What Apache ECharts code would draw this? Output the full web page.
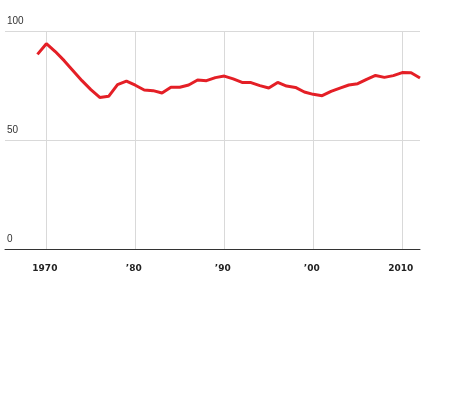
<!DOCTYPE html>
<html><head><meta charset="utf-8">
<script src="https://cdn.jsdelivr.net/npm/echarts@6/dist/echarts.min.js"></script>
<style>html,body{margin:0;padding:0;background:#fff}#c{width:460px;height:400px}</style>
</head><body><div id="c"></div>
<script>
const years = [1969,1970,1971,1972,1973,1974,1975,1976,1977,1978,1979,1980,1981,1982,1983,1984,1985,1986,1987,1988,1989,1990,1991,1992,1993,1994,1995,1996,1997,1998,1999,2000,2001,2002,2003,2004,2005,2006,2007,2008,2009,2010,2011,2012];
const values = [89.5,94.4,90.8,86.6,82.0,77.4,73.3,69.7,70.2,75.6,77.2,75.3,73.1,72.8,71.7,74.4,74.4,75.4,77.7,77.4,78.8,79.5,78.2,76.6,76.5,75.1,74.0,76.6,74.9,74.3,72.2,71.1,70.5,72.5,74.0,75.4,76.0,78.0,79.8,78.9,79.7,81.1,81.0,78.6];
const xTicks = [1970,1980,1990,2000,2010];
const xTickLabels = {1970:'1970',1980:'’80',1990:'’90',2000:'’00',2010:'2010'};
const yTicks = [0,50,100];

const chart = echarts.init(document.getElementById('c'), null, {renderer:'canvas'});
chart.setOption({
  animation:false,
  grid:{left:5,right:40,top:31.5,bottom:151,containLabel:false},
  xAxis:{
    type:'value', min:1965.35, max:2012,
    axisLine:{show:true,lineStyle:{color:'#333',width:1}},
    axisTick:{show:false,customValues:xTicks},
    axisLabel:{customValues:xTicks,formatter:v=>xTickLabels[v]||'',fontFamily:'DejaVu Sans',fontWeight:'bold',fontSize:9,color:'#222',margin:15,padding:[0,3,0,0]},
    splitLine:{show:true,lineStyle:{color:'#d9d9d9',width:1}}
  },
  yAxis:{
    type:'value', min:0, max:100, interval:50,
    axisLine:{show:false}, axisTick:{show:false},
    axisLabel:{inside:true,margin:2,verticalAlign:'bottom',padding:[0,0,5,0],fontFamily:'Liberation Sans',fontSize:10,color:'#333'},
    splitLine:{show:true,lineStyle:{color:'#d9d9d9',width:1}}
  },
  series:[{
    type:'line', data: years.map((y,i)=>[y,values[i]]),
    showSymbol:false, lineStyle:{color:'#e41f26',width:3}, itemStyle:{color:'#e41f26'}
  }]
});
</script></body></html>
